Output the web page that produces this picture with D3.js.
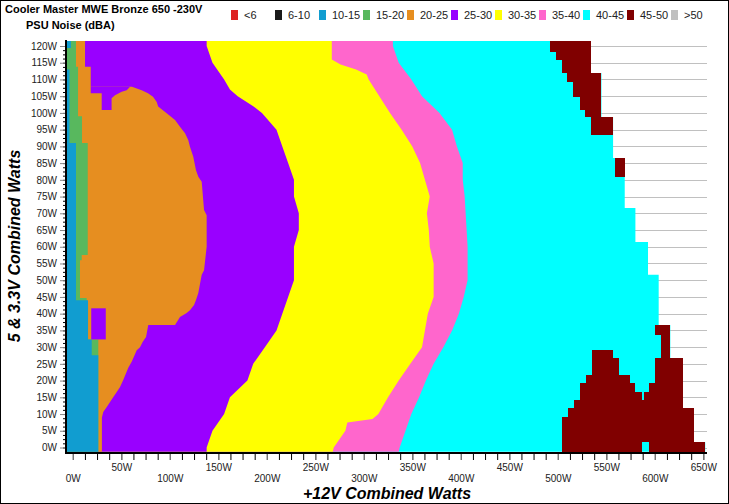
<!DOCTYPE html>
<html>
<head>
<meta charset="utf-8">
<script src="https://cdn.jsdelivr.net/npm/d3@7"></script>
<style>
body { margin: 0; background: #fff; }
svg text { font-family: "Liberation Sans", Arial, sans-serif; }
</style>
</head>
<body>
<div id="chart"></div>
<script>
// legend / bands
let legendLabels = ["<6", "6-10", "10-15", "15-20", "20-25", "25-30", "30-35", "35-40", "40-45", "45-50", ">50"];
let legendColors = ["#dd2222", "#1a1a1a", "#119dd0", "#58b85e", "#e68e20", "#9900ff", "#ffff00", "#ff66cc", "#00ffff", "#800000", "#c0c0c0"];

let xTickValues = [0, 50, 100, 150, 200, 250, 300, 350, 400, 450, 500, 550, 600, 650];
let yTickValues = [0, 5, 10, 15, 20, 25, 30, 35, 40, 45, 50, 55, 60, 65, 70, 75, 80, 85, 90, 95, 100, 105, 110, 115, 120];

// boundaries: [5&3.3V watts, 12V watts]
// right edge of the measured area, [yFrom, yTo, x]
let edgeSteps = [
  [-1.3, 1.6, 652], [1.6, 11.8, 640], [11.8, 26.7, 629], [26.7, 36.6, 616],
  [36.6, 51.6, 604], [51.6, 61.4, 593], [61.4, 71.6, 580], [71.6, 86.5, 569],
  [86.5, 98.8, 557], [98.8, 111.9, 545], [111.9, 121.5, 534]
];

let pinkCyan = [
  [-1.3, 336], [0, 337], [5, 343], [10, 349], [15, 357], [20, 364], [25, 372], [30, 382], [35, 391],
  [40, 398], [45, 403], [50, 407], [55, 407], [60, 407], [65, 406], [70, 405], [75, 404], [80, 402],
  [85, 402], [90, 396], [95, 391], [100, 378], [105, 360], [110, 349], [115, 336], [120, 330], [121.5, 330]
];

let yellowPink = [
  [-1.3, 268], [0, 269], [5, 281], [7.5, 283], [8.5, 309], [10, 315], [15, 325], [20, 336], [25, 348],
  [30, 360], [35, 363], [40, 366], [45, 372], [50, 372], [55, 372], [60, 368], [65, 367], [70, 365],
  [75, 368], [80, 363], [85, 358], [90, 350], [95, 339], [100, 327], [105, 316], [110, 305], [111.5, 303],
  [113, 292], [114.5, 276], [116, 267], [121.5, 267]
];

let purpleYellow = [
  [-1.3, 138], [0, 138], [5, 144], [10, 156], [15, 162], [20, 180], [25, 186], [30, 198], [35, 210],
  [40, 216], [45, 222], [50, 228], [55, 228], [60, 228], [65, 233], [70, 233], [75, 228], [80, 228],
  [85, 222], [90, 216], [95, 210], [100, 195], [102, 186], [105, 170], [107, 162], [110, 156],
  [115, 144], [120, 138], [121.5, 138]
];

let orangePurple = [
  [-1.3, 30], [9, 30], [10.6, 31.4], [12.1, 35], [13.6, 38.4], [15.1, 41.8], [16.6, 45.3], [18.1, 48.7],
  [20.2, 52], [23.8, 57.2], [25.6, 60.7], [29.1, 65.9], [30, 69.3], [31.5, 72], [33, 75.5], [36.6, 77.8],
  [36.6, 105.4], [39, 110.5], [40.2, 117.4], [41.1, 121], [42.6, 125], [44.1, 127], [46.2, 129.4],
  [51.6, 132.9], [53, 135.3], [60, 138], [69.4, 138], [71, 135.3], [79.4, 132.9], [80.9, 129.4],
  [82.9, 127], [86.9, 124.2], [89.9, 120.8], [91.9, 119], [93.9, 115.7], [95.9, 110.5], [97.9, 105.4],
  [99.9, 96.8], [101.9, 88], [103.3, 86.5], [104.8, 82.7], [105.9, 77.5], [106.8, 71], [107.8, 61],
  [107.8, 18.5], [113.8, 18.5], [113.8, 12.6], [121.5, 12.6]
];

let greenOrange = [
  [-1.3, 26.3], [32.3, 26.3], [32.3, 15.7], [42, 15.7], [42, 14.3], [44.7, 14.3], [44.7, 7.4], [56, 7.4],
  [56, 9.2], [57.5, 9.2], [57.5, 15.4], [91, 15.4], [91, 9.5], [99, 9.5], [99, 5.4], [113.8, 5.4],
  [113.8, 3.3], [121.5, 3.3]
];

let blueGreen = [
  [-1.3, 26.3], [27.6, 26.3], [27.6, 19.5], [32.3, 19.5], [32.3, 15.7], [44, 15.7], [44, 3.3], [91, 3.3],
  [91, -3.4], [113, -3.4], [113, -6], [119.4, -6], [119.4, -1.9], [121.5, -1.9]
];

// purple islands inside the orange area, [x, y]
let purpleIslands = [
  [[18.5, 107.8], [59, 107.8], [55.6, 106.8], [50.4, 106.3], [43.5, 105.3], [40, 104.4], [40, 100.9],
   [29.8, 100.9], [29.8, 105.9], [18.5, 105.9]],
  [[19, 41.6], [34, 41.6], [34, 32.3], [19, 32.3]]
];

// 45-50 dBA blocks, [yFrom, yTo, xFrom, xTo]
let redBlocks = [
  [118.2, 121.5, 492, 534], [115.8, 118.2, 498, 534], [111.9, 115.8, 504, 534], [109.2, 111.9, 509, 545],
  [104.7, 109.2, 516, 545], [100.9, 104.7, 523, 545], [98.8, 100.9, 528, 545], [93.4, 98.8, 534, 557],
  [80.8, 86.5, 559, 569],
  [26.7, 29.1, 535, 557], [21.7, 26.7, 535, 563], [19.3, 21.7, 529, 574], [16.6, 19.3, 523, 580],
  [14.2, 16.6, 523, 587], [11.8, 14.2, 517, 629], [9.1, 11.8, 511, 640], [1.6, 9.1, 504, 640],
  [-1.3, 1.6, 504, 587],
  [33.6, 36.6, 600, 616], [26.7, 33.6, 606, 616], [19.3, 26.7, 600, 629], [16.6, 19.3, 594, 629],
  [14.2, 16.6, 589, 629], [-1.3, 1.6, 594, 652]
];

let svgWidth = 729;
let svgHeight = 504;
let X_MIN = -6;

let svg = d3.select("#chart").append("svg").attr("width", svgWidth).attr("height", svgHeight);

svg.append("rect").attr("x", 0.5).attr("y", 0.5).attr("width", svgWidth - 1).attr("height", svgHeight - 1)
  .attr("fill", "#fff").attr("stroke", "#000");

let x = d3.scaleLinear().domain([0, 650]).range([72.8, 703.3]);
let y = d3.scaleLinear().domain([0, 120]).range([447.5, 46]);

// gridlines
svg.append("g").selectAll("line").data(yTickValues).join("line")
  .attr("x1", 67).attr("x2", 707)
  .attr("y1", d => Math.round(y(d)) + 0.5).attr("y2", d => Math.round(y(d)) + 0.5)
  .attr("stroke", "#c0c0c0");

// filled from the left edge up to a boundary
let bandPath = pts => {
  let poly = [[pts[0][0], X_MIN], ...pts, [pts[pts.length - 1][0], X_MIN]];
  return d3.line().x(d => x(d[1])).y(d => y(d[0]))(poly) + "Z";
};

let edgePts = edgeSteps.flatMap(s => [[s[0], s[2]], [s[1], s[2]]]);

let layers = [
  { pts: edgePts, color: legendColors[8] },
  { pts: pinkCyan, color: legendColors[7] },
  { pts: yellowPink, color: legendColors[6] },
  { pts: purpleYellow, color: legendColors[5] },
  { pts: orangePurple, color: legendColors[4] },
  { pts: greenOrange, color: legendColors[3] },
  { pts: blueGreen, color: legendColors[2] }
];

let plot = svg.append("g");
plot.selectAll("path.band").data(layers).join("path")
  .attr("class", "band")
  .attr("d", d => bandPath(d.pts))
  .attr("fill", d => d.color);

plot.selectAll("path.island").data(purpleIslands).join("path")
  .attr("class", "island")
  .attr("d", d => d3.line().x(p => x(p[0])).y(p => y(p[1]))(d) + "Z")
  .attr("fill", legendColors[5]);

plot.selectAll("rect.red").data(redBlocks).join("rect")
  .attr("class", "red")
  .attr("x", d => x(d[2]))
  .attr("width", d => x(d[3]) - x(d[2]))
  .attr("y", d => y(d[1]))
  .attr("height", d => y(d[0]) - y(d[1]))
  .attr("fill", legendColors[9])
  .attr("shape-rendering", "crispEdges");

// axes
let minorY = d3.range(0, 120.01, 1.25);
let minorX = d3.range(0, 650.01, 12.5);

svg.append("g").attr("transform", "translate(66,0)")
  .call(d3.axisLeft(y).tickValues(minorY).tickSize(3).tickFormat(""))
  .call(g => g.select(".domain").remove())
  .call(g => g.selectAll("line").attr("stroke", "#000"));

let yAxis = svg.append("g").attr("transform", "translate(66,0)")
  .call(d3.axisLeft(y).tickValues(yTickValues).tickSize(6).tickPadding(3).tickFormat(d => d + "W"));
yAxis.select(".domain").remove();
yAxis.selectAll("line").attr("stroke", "#888");
yAxis.selectAll("text").attr("font-size", 10).attr("fill", "#222").attr("font-family", "Liberation Sans, Arial");

svg.append("g").attr("transform", "translate(0,454)")
  .call(d3.axisBottom(x).tickValues(minorX).tickSize(6).tickFormat(""))
  .call(g => g.select(".domain").remove())
  .call(g => g.selectAll("line").attr("stroke", "#000"));

let xAxis = svg.append("g").attr("transform", "translate(0,454)")
  .call(d3.axisBottom(x).tickValues(xTickValues).tickSize(6).tickFormat(d => d + "W"));
xAxis.select(".domain").remove();
xAxis.selectAll("line").attr("stroke", "#888");
xAxis.selectAll("text")
  .attr("y", d => d % 100 ? 10 : 21)
  .attr("font-size", 10).attr("fill", "#222").attr("font-family", "Liberation Sans, Arial");

svg.append("line").attr("x1", 66).attr("x2", 66).attr("y1", 40).attr("y2", 454)
  .attr("stroke", "#000").attr("stroke-width", 2);
svg.append("line").attr("x1", 65).attr("x2", 707).attr("y1", 453).attr("y2", 453)
  .attr("stroke", "#000").attr("stroke-width", 2);

// titles
svg.append("text").attr("x", 5).attr("y", 13)
  .attr("font-size", 11).attr("font-weight", "bold")
  .text("Cooler Master MWE Bronze 650 -230V");
svg.append("text").attr("x", 26).attr("y", 29)
  .attr("font-size", 11).attr("font-weight", "bold")
  .text("PSU Noise (dBA)");

svg.append("text").attr("x", 387).attr("y", 499)
  .attr("text-anchor", "middle").attr("font-size", 16)
  .attr("font-weight", "bold").attr("font-style", "italic")
  .text("+12V Combined Watts");
svg.append("text").attr("transform", "translate(20,246) rotate(-90)")
  .attr("text-anchor", "middle").attr("font-size", 16)
  .attr("font-weight", "bold").attr("font-style", "italic")
  .text("5 & 3.3V Combined Watts");

// legend
let legend = svg.append("g").selectAll("g").data(legendLabels).join("g")
  .attr("transform", (d, i) => `translate(${231 + i * 44},0)`);
legend.append("rect").attr("x", 0).attr("y", 10).attr("width", 7).attr("height", 10)
  .attr("fill", (d, i) => legendColors[i]);
legend.append("text").attr("x", 13).attr("y", 19).attr("font-size", 11).attr("fill", "#222")
  .text(d => d);
</script>
</body>
</html>
